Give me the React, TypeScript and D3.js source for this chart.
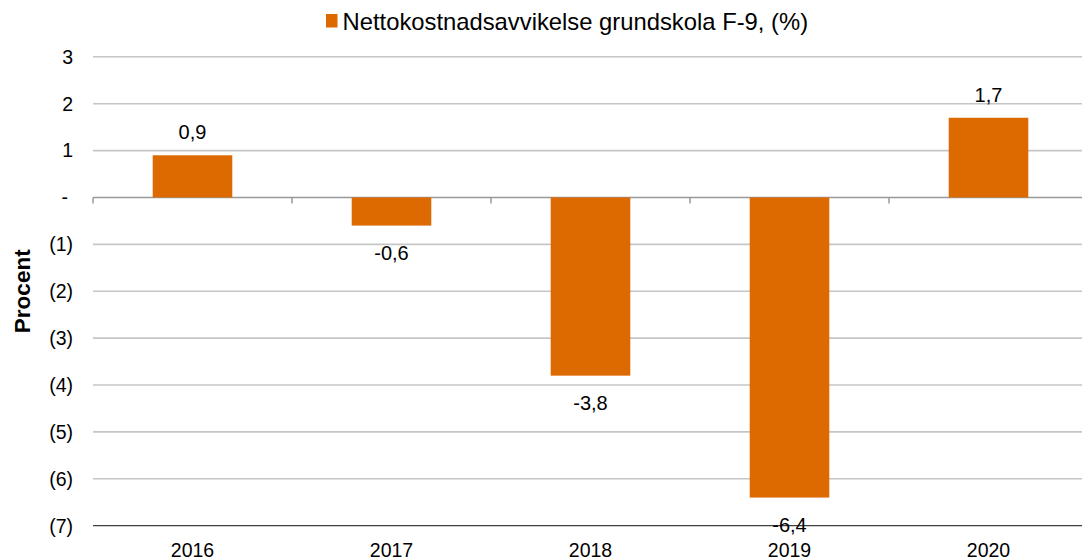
import React from "react";
import * as d3 from "d3";

const years = ["2016", "2017", "2018", "2019", "2020"];
const values = [0.9, -0.6, -3.8, -6.4, 1.7];
const yTicks = [3, 2, 1, 0, -1, -2, -3, -4, -5, -6, -7];
const legendLabel = "Nettokostnadsavvikelse grundskola F-9, (%)";
const yTitle = "Procent";

const W = 1082;
const H = 560;
const FONT = "'Liberation Sans', Arial, sans-serif";
const BAR = "#DD6A00";

const fmtTick = (v: number) => (v === 0 ? "-" : v < 0 ? `(${Math.abs(v)})` : `${v}`);
const fmtVal = (v: number) => v.toFixed(1).replace(".", ",");

export default function App() {
  const x = d3.scaleBand<string>().domain(years).range([93, 1088]).paddingInner(0.6).paddingOuter(0.3);
  const y = d3.scaleLinear().domain([-7, 3]).range([525.7, 56.8]);
  const step = x.step();
  const x0 = 93;

  return (
    <svg width={W} height={H} style={{ position: "absolute", left: 0, top: 0, background: "#fff" }} fontFamily={FONT}>
      {yTicks.map((t) => (
        <line
          key={"g" + t}
          x1={x0}
          x2={W}
          y1={y(t)}
          y2={y(t)}
          stroke={t === -7 ? "#404040" : t === 0 ? "#999" : "#C6C6C6"}
          strokeWidth={t === -7 ? 1.2 : 1.6}
        />
      ))}
      {years.map((_, i) => (
        <line key={"t" + i} x1={x0 + i * step} x2={x0 + i * step} y1={y(0)} y2={y(0) + 6} stroke="#999" strokeWidth={1.5} />
      ))}
      {yTicks.map((t) => (
        <text key={"yl" + t} x={t === 0 ? 68 : 73} y={y(t)} dy="0.35em" textAnchor="end" fontSize={19.5} fill="#000">
          {fmtTick(t)}
        </text>
      ))}
      {years.map((yr, i) => {
        const v = values[i];
        const top = y(Math.max(0, v));
        const bot = y(Math.min(0, v));
        return (
          <g key={yr}>
            <rect x={x(yr)} y={top} width={x.bandwidth()} height={bot - top} fill={BAR} />
            <text
              x={x(yr)! + x.bandwidth() / 2}
              y={v >= 0 ? top - 23 : bot + 27}
              dy="0.35em"
              textAnchor="middle"
              fontSize={20}
              fill="#000"
            >
              {fmtVal(v)}
            </text>
            <text x={x(yr)! + x.bandwidth() / 2} y={550.5} dy="0.35em" textAnchor="middle" fontSize={19.5} fill="#000">
              {yr}
            </text>
          </g>
        );
      })}
      <text
        transform={`translate(22.5,${(y(3) + y(-7)) / 2}) rotate(-90)`}
        dy="0.35em"
        textAnchor="middle"
        fontSize={22.5}
        fontWeight="bold"
        fill="#000"
      >
        {yTitle}
      </text>
      <rect x={326} y={14} width={11.5} height={13.5} fill={BAR} />
      <text x={342.5} y={22} dy="0.35em" fontSize={23.8} fill="#000">
        {legendLabel}
      </text>
    </svg>
  );
}
